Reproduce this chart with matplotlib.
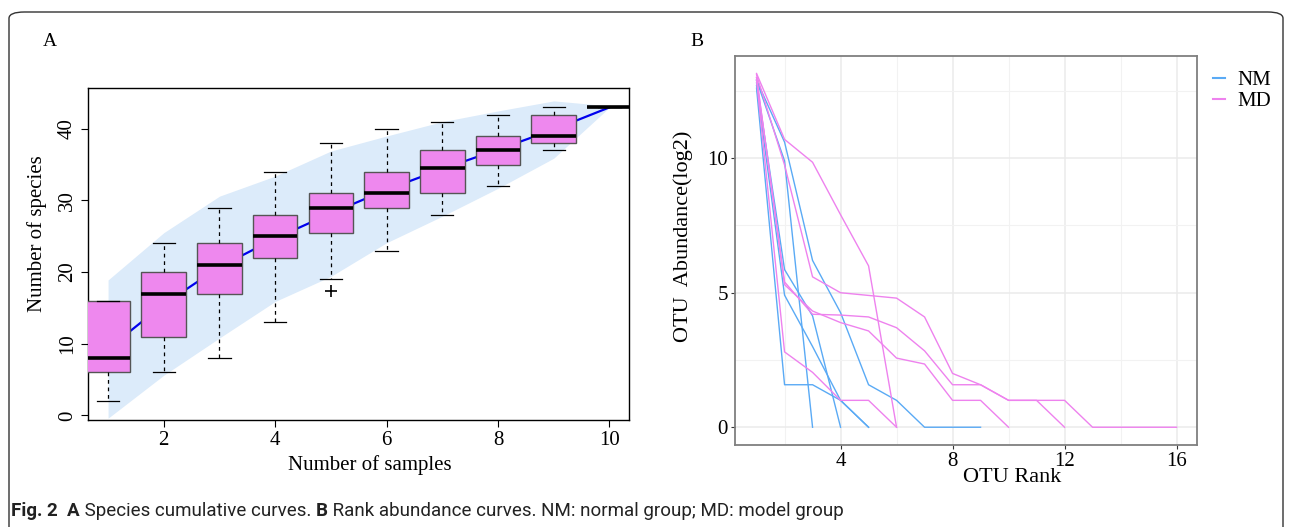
import matplotlib
matplotlib.use("Agg")
import matplotlib.pyplot as plt
from matplotlib.patches import FancyBboxPatch
from matplotlib.lines import Line2D
import numpy as np

# ---------------- data: panel A (species accumulation) ----------------
n_samples = [1, 2, 3, 4, 5, 6, 7, 8, 9, 10]
box_min = [2, 6, 8, 13, 19, 23, 28, 32, 37, 43]
box_q1 = [6, 11, 17, 22, 25.5, 29, 31, 35, 38, 43]
box_med = [8, 17, 21, 25, 29, 31, 34.5, 37, 39, 43]
box_q3 = [16, 20, 24, 28, 31, 34, 37, 39, 42, 43]
box_max = [16, 24, 29, 34, 38, 40, 41, 42, 43, 43]
box_outliers = [[], [], [], [], [17.4], [], [], [], [], []]
acc_mean = [9.3, 15.5, 20.7, 24.7, 28.2, 31.5, 34.4, 37.1, 39.9, 43]
acc_upper = [18.9, 25.5, 30.6, 33.4, 36.9, 39.0, 41.0, 42.5, 43.9, 43.2]
acc_lower = [-0.4, 5.6, 10.8, 15.9, 19.4, 24.1, 27.8, 31.7, 35.9, 43]

# ---------------- data: panel B (rank abundance, log2) ----------------
nm_curves = [
    [12.9, 9.9, 0],
    [12.9, 10.6, 6.2, 4.26, 1.58, 1.0, 0, 0, 0],
    [12.8, 5.86, 4.14, 0],
    [12.7, 4.91, 3.0, 1.0, 0],
    [12.6, 1.58, 1.58, 1.0, 0],
]
md_curves = [
    [13.15, 10.7, 9.85, 7.9, 6.0, 0],
    [13.1, 9.75, 5.59, 5.0, 4.9, 4.8, 4.1, 2.0, 1.58, 1.0, 1.0, 1.0, 0, 0, 0, 0],
    [13.0, 5.4, 4.2, 4.17, 4.1, 3.7, 2.84, 1.58, 1.58, 1.0, 1.0, 0],
    [13.0, 5.3, 4.32, 3.89, 3.58, 2.57, 2.35, 1.0, 1.0, 0],
    [12.9, 2.8, 2.04, 1.0, 1.0, 0],
]
group_names = ["NM", "MD"]
group_colors = ["#5aaaf5", "#ee82ee"]

caption_parts = [("Fig. 2", "bold"), ("  ", "normal"), ("A", "bold"),
                 (" Species cumulative curves. ", "normal"), ("B", "bold"),
                 (" Rank abundance curves. NM: normal group; MD: model group", "normal")]

W, H = 1289, 527
fig = plt.figure(figsize=(W / 100, H / 100), dpi=100)
serif = "Liberation Serif"

def fx(px):
    return px / W

def fy(py):
    return 1 - py / H

# outer rounded frame
frame = FancyBboxPatch((fx(9), fy(560)), fx(1283) - fx(9), fy(12) - fy(560),
                       boxstyle="round,pad=0,rounding_size=0.012",
                       transform=fig.transFigure, fill=False,
                       edgecolor="#333333", linewidth=1.0, clip_on=False)
fig.patches.append(frame)

# ---------------- panel A ----------------
axA = fig.add_axes([fx(88), fy(420), fx(629) - fx(88), fy(88) - fy(420)])
axA.fill_between(n_samples, acc_lower, acc_upper, color="#dcebfa", linewidth=0, zorder=1)
axA.plot(n_samples, acc_mean, color="#0000ee", linewidth=1.6, zorder=2)
stats = []
for i in range(len(n_samples)):
    stats.append(dict(whislo=box_min[i], q1=box_q1[i], med=box_med[i],
                      q3=box_q3[i], whishi=box_max[i], fliers=box_outliers[i]))
axA.bxp(stats, positions=n_samples, widths=0.8, patch_artist=True,
        boxprops=dict(facecolor="#ee88ee", edgecolor="#555555", linewidth=1.0),
        medianprops=dict(color="black", linewidth=2.6),
        whiskerprops=dict(color="black", linewidth=0.9, linestyle=(0, (3, 3))),
        capprops=dict(color="black", linewidth=0.9),
        flierprops=dict(marker="+", markersize=9, markeredgecolor="black",
                        markeredgewidth=1.2), capwidths=0.4,
        manage_ticks=False, zorder=3)
axA.set_xlim(0.64, 10.35)
axA.set_ylim(-0.65, 45.7)
axA.set_xticks([2, 4, 6, 8, 10])
axA.set_yticks([0, 10, 20, 30, 40])
axA.tick_params(axis="both", direction="out", length=5, width=0.8, labelsize=15, pad=3)
for lab in axA.get_xticklabels() + axA.get_yticklabels():
    lab.set_fontfamily(serif)
for lab in axA.get_yticklabels():
    lab.set_rotation(90)
    lab.set_va("center")
for s in axA.spines.values():
    s.set_linewidth(1.0)
    s.set_color("black")
fig.text(fx(370), fy(465), "Number of samples", ha="center", va="center",
         fontsize=15, family=serif)
fig.text(fx(37), fy(234), "Number of species", ha="center", va="center",
         fontsize=15, family=serif, rotation=90)
fig.text(fx(50), fy(41), "A", ha="center", va="center", fontsize=14, family=serif)

# ---------------- panel B ----------------
axB = fig.add_axes([fx(735), fy(445), fx(1197) - fx(735), fy(56) - fy(445)])
axB.set_xlim(0.23, 16.73)
axB.set_ylim(-0.66, 13.8)
axB.set_xticks([4, 8, 12, 16])
axB.set_yticks([0, 5, 10])
axB.set_xticks([2, 6, 10, 14], minor=True)
axB.set_yticks([2.5, 7.5, 12.5], minor=True)
axB.grid(True, which="major", color="#ebebeb", linewidth=1.1, zorder=0)
axB.grid(True, which="minor", color="#f2f2f2", linewidth=0.8, zorder=0)
axB.set_axisbelow(True)
for curve in nm_curves:
    axB.plot(np.arange(1, len(curve) + 1), curve, color=group_colors[0], linewidth=1.0)
for curve in md_curves:
    axB.plot(np.arange(1, len(curve) + 1), curve, color=group_colors[1], linewidth=1.0)
axB.tick_params(axis="both", which="major", direction="out", length=3, width=0.8,
                color="#333333", labelsize=15, pad=2)
axB.tick_params(axis="both", which="minor", length=0)
for lab in axB.get_xticklabels() + axB.get_yticklabels():
    lab.set_fontfamily(serif)
for s in axB.spines.values():
    s.set_linewidth(1.3)
    s.set_color("#7f7f7f")
fig.text(fx(1012), fy(478), "OTU Rank", ha="center", va="center",
         fontsize=16, family=serif)
fig.text(fx(683), fy(236), "OTU  Abundance(log2)", ha="center", va="center",
         fontsize=16, family=serif, rotation=90)
fig.text(fx(697), fy(41), "B", ha="center", va="center", fontsize=14, family=serif)

handles = [Line2D([], [], color=c, linewidth=1.5) for c in group_colors]
leg = fig.legend(handles, group_names, loc="upper left",
                 bbox_to_anchor=(fx(1194), fy(52)), frameon=False,
                 handlelength=0.6, handletextpad=0.6, labelspacing=0.05,
                 prop=dict(family=serif, size=15))

# caption, laid out piece by piece
renderer = fig.canvas.get_renderer()
cap_family = ["Roboto", "DejaVu Sans"]
cap_size = 13.5
x_px = 11.0
for text, weight in caption_parts:
    t = fig.text(fx(x_px), fy(511), text, ha="left", va="center", fontsize=cap_size,
                 family=cap_family, weight=weight, color="#222222")
    bb = t.get_window_extent(renderer=renderer)
    x_px += bb.width

fig.savefig("out.png", dpi=100)
